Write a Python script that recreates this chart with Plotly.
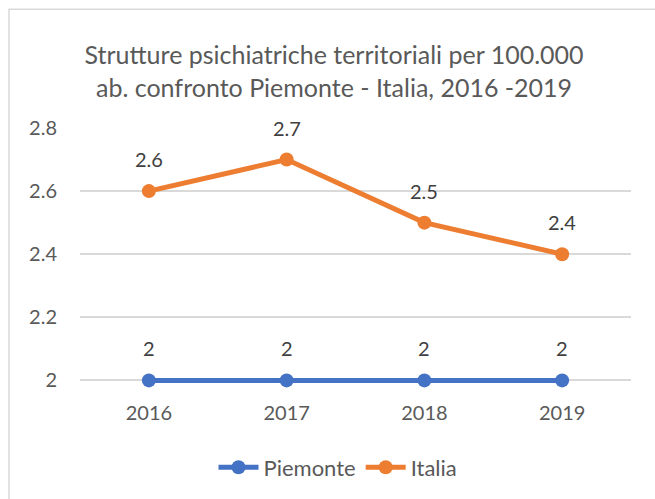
import plotly.graph_objects as go

years = ["2016", "2017", "2018", "2019"]
piemonte = [2, 2, 2, 2]
italia = [2.6, 2.7, 2.5, 2.4]
y_ticks = [2, 2.2, 2.4, 2.6, 2.8]
y_tick_labels = ["2", "2.2", "2.4", "2.6", "2.8"]

FONT = "Lato, 'Open Sans', sans-serif"
TXT = "#595959"
W, H = 655, 499
Y_LO, Y_HI = 1.96, 2.8
TOP_PX, BASE_PX = 128, 381          # pixel rows of 2.8 and 2.0
scale = (BASE_PX - TOP_PX) / (Y_HI - 2.0)
L, R, T = 80, 24, TOP_PX
B = H - (BASE_PX + (2.0 - Y_LO) * scale)
pw = W - L - R
ph = H - T - B

def py(pixel_y):
    return (H - B - pixel_y) / ph

def px(pixel_x):
    return (pixel_x - L) / pw

fig = go.Figure()
fig.add_trace(go.Scatter(x=years, y=piemonte, name="Piemonte", mode="lines+markers", cliponaxis=False,
                         line=dict(color="#4472C4", width=5), marker=dict(size=14, color="#4472C4")))
fig.add_trace(go.Scatter(x=years, y=italia, name="Italia", mode="lines+markers", cliponaxis=False,
                         line=dict(color="#ED7D31", width=5), marker=dict(size=14, color="#ED7D31")))

for series in (piemonte, italia):
    for i, yv in enumerate(series):
        fig.add_annotation(x=i, y=yv, xref="x", yref="y", text=f"{yv:g}", showarrow=False, yshift=32,
                           font=dict(family=FONT, size=20, color="#404040"))

fig.add_shape(type="rect", xref="paper", yref="paper",
              x0=px(9), x1=px(W + 5), y0=py(H + 5), y1=py(9),
              line=dict(color="#D9D9D9", width=1.5), fillcolor="rgba(0,0,0,0)", layer="below")

fig.update_layout(
    width=W, height=H,
    margin=dict(l=L, r=R, t=T, b=B),
    paper_bgcolor="white", plot_bgcolor="white",
    title=dict(text="Strutture psichiatriche territoriali per 100.000<br>ab. confronto Piemonte - Italia, 2016 -2019",
               x=0.51, xanchor="center", y=1 - 64 / H, yanchor="middle",
               font=dict(family=FONT, size=25, color=TXT)),
    font=dict(family=FONT, size=20, color=TXT),
    showlegend=True,
    legend=dict(orientation="h", x=px(338), xanchor="center", y=py(467), yanchor="middle",
                font=dict(family=FONT, size=22, color=TXT), itemwidth=40, traceorder="normal"),
    xaxis=dict(type="category", range=[-0.5, 3.5], showgrid=False, showline=False,
               ticks="", ticklabelstandoff=6,
               tickfont=dict(family=FONT, size=20, color=TXT)),
    yaxis=dict(range=[Y_LO, Y_HI], tickvals=y_ticks, ticktext=y_tick_labels, showgrid=True,
               gridcolor="#D9D9D9", gridwidth=1.5, zeroline=False, showline=False, ticks="",
               ticklabelstandoff=22, tickfont=dict(family=FONT, size=20, color=TXT)),
)

fig.write_html("out.html", config={"displayModeBar": False},
               post_script="document.body.style.margin='0';document.body.style.overflow='hidden';")
